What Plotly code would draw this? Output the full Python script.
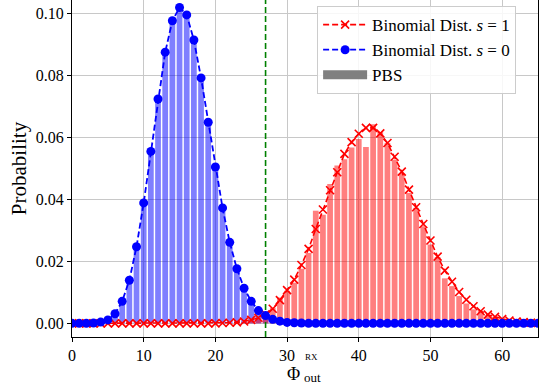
import plotly.graph_objects as go

# ---- data ----
x_vals = list(range(0, 66))

binom_s0 = [0.0000, 0.0000, 0.0000, 0.0001, 0.0004, 0.0011, 0.0031, 0.0071, 0.0139, 0.0247,
            0.0388, 0.0554, 0.0723, 0.0874, 0.0975, 0.1018, 0.0994, 0.0913, 0.0791, 0.0648,
            0.0504, 0.0372, 0.0261, 0.0176, 0.0113, 0.0071, 0.0041, 0.0025, 0.0013, 0.0007,
            0.0003, 0.0002, 0.0001] + [0.0000] * 33

binom_s1 = [0.0000] * 21 + [0.0001, 0.0002, 0.0003, 0.0006, 0.0011, 0.0018, 0.0029, 0.0047, 0.0075,
            0.0107, 0.0141, 0.0188, 0.0240, 0.0304, 0.0367, 0.0429, 0.0487, 0.0546, 0.0584,
            0.0611, 0.0630, 0.0630, 0.0612, 0.0581, 0.0537, 0.0489, 0.0431, 0.0374, 0.0320,
            0.0267, 0.0215, 0.0170, 0.0134, 0.0101, 0.0076, 0.0055, 0.0039, 0.0028, 0.0021,
            0.0014, 0.0009, 0.0006, 0.0004, 0.0002, 0.0001]

pbs_s0 = [0.0000, 0.0000, 0.0000, 0.0001, 0.0004, 0.0011, 0.0030, 0.0070, 0.0140, 0.0248,
          0.0390, 0.0552, 0.0722, 0.0872, 0.0977, 0.1016, 0.0995, 0.0910, 0.0793, 0.0646,
          0.0505, 0.0370, 0.0262, 0.0178, 0.0112, 0.0072, 0.0045, 0.0022, 0.0012, 0.0006,
          0.0003] + [0.0000] * 35

pbs_s1 = [0.0000] * 22 + [0.0001, 0.0002, 0.0005, 0.0009, 0.0016, 0.0030, 0.0050, 0.0083,
          0.0105, 0.0131, 0.0176, 0.0227, 0.0363, 0.0350, 0.0449, 0.0509, 0.0529, 0.0567,
          0.0594, 0.0568, 0.0642, 0.0616, 0.0581, 0.0527, 0.0484, 0.0420, 0.0372, 0.0313,
          0.0254, 0.0214, 0.0145, 0.0120, 0.0088, 0.0064, 0.0045, 0.0040, 0.0026, 0.0021,
          0.0012, 0.0007, 0.0005, 0.0003, 0.0002, 0.0001]

threshold = 27
x_range = [0, 65]
y_range = [-0.0044, 0.1042]
x_ticks = [0, 10, 20, 30, 40, 50, 60]
y_ticks = [0.00, 0.02, 0.04, 0.06, 0.08, 0.10]
y_tick_labels = ["0.00", "0.02", "0.04", "0.06", "0.08", "0.10"]

FONT = "Liberation Serif"

fig = go.Figure()

fig.add_trace(go.Bar(x=x_vals, y=pbs_s0, width=0.8, marker=dict(color="rgba(0,0,255,0.5)", line=dict(width=0)),
                     showlegend=False))
fig.add_trace(go.Bar(x=x_vals, y=pbs_s1, width=0.8, marker=dict(color="rgba(255,0,0,0.5)", line=dict(width=0)),
                     showlegend=False))

# threshold line
fig.add_trace(go.Scatter(x=[threshold, threshold], y=y_range, mode="lines",
                         line=dict(color="#008000", width=1.6, dash="6px,3px"), showlegend=False))

fig.add_trace(go.Scatter(x=x_vals, y=binom_s1, mode="lines+markers", name="Binomial Dist. <i>s</i> = 1",
                         line=dict(color="red", width=1.6, dash="6px,3px"),
                         marker=dict(symbol="x-thin", size=8, line=dict(color="red", width=1.6)),
                         legendrank=1))
fig.add_trace(go.Scatter(x=x_vals, y=binom_s0, mode="lines+markers", name="Binomial Dist. <i>s</i> = 0",
                         line=dict(color="blue", width=1.8, dash="6px,3px"),
                         marker=dict(symbol="circle", size=9, color="blue"),
                         legendrank=2))
# legend patch for PBS
fig.add_trace(go.Scatter(x=[None], y=[None], mode="lines", name="PBS",
                         line=dict(color="gray", width=9), legendrank=3))

fig.update_layout(
    width=539, height=387,
    margin=dict(l=72, r=1, t=0, b=50),
    paper_bgcolor="white", plot_bgcolor="white",
    barmode="overlay",
    font=dict(family=FONT, size=16, color="black"),
    legend=dict(x=0.526, y=0.982, xanchor="left", yanchor="top",
                bgcolor="rgba(255,255,255,0.85)", bordercolor="#cccccc", borderwidth=1,
                font=dict(family=FONT, size=17), tracegroupgap=0, itemwidth=44),
    xaxis=dict(range=x_range, tickvals=x_ticks, showgrid=True, gridcolor="#c8c8c8", gridwidth=1,
               showline=True, linecolor="black", linewidth=1, mirror=False,
               ticks="outside", ticklen=4, tickcolor="black", zeroline=False,
               tickfont=dict(family=FONT, size=16)),
    yaxis=dict(range=y_range, tickvals=y_ticks, ticktext=y_tick_labels, showgrid=True,
               gridcolor="#c8c8c8", gridwidth=1,
               showline=True, linecolor="black", linewidth=1, mirror=True,
               ticks="outside", ticklen=4, tickcolor="black", zeroline=False,
               tickfont=dict(family=FONT, size=16),
               title=dict(text="Probability", font=dict(family=FONT, size=21), standoff=3)),
)

# x-axis label: Phi with stacked super/subscripts
fig.add_annotation(text="Φ", xref="paper", yref="paper", x=0.476, y=-0.111, showarrow=False,
                   xanchor="center", yanchor="middle", borderpad=0, font=dict(family=FONT, size=18))
fig.add_annotation(text="RX", xref="paper", yref="paper", x=0.515, y=-0.058, showarrow=False,
                   xanchor="center", yanchor="middle", borderpad=0, font=dict(family=FONT, size=9))
fig.add_annotation(text="out", xref="paper", yref="paper", x=0.517, y=-0.12, showarrow=False,
                   xanchor="center", yanchor="middle", borderpad=0, font=dict(family=FONT, size=13))

fig.write_html("out.html")
